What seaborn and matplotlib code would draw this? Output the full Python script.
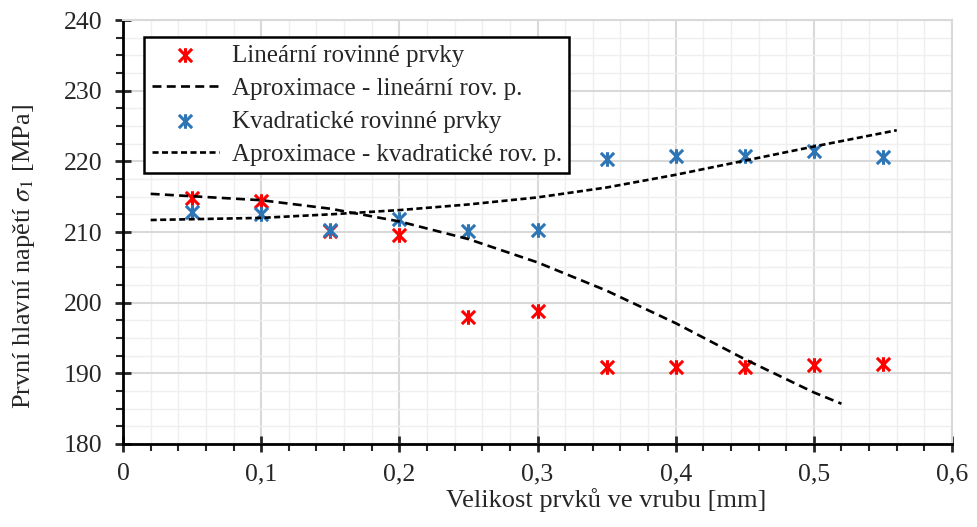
import numpy as np
import pandas as pd
import seaborn as sns
import matplotlib.pyplot as plt
from matplotlib.path import Path

# velikost prvku [mm]
velikost = [0.05, 0.10, 0.15, 0.20, 0.25, 0.30, 0.35, 0.40, 0.45, 0.50, 0.55]
# linearni rovinne prvky [MPa]
linearni = [214.8, 214.4, 210.1, 209.6, 198.0, 198.8, 190.9, 190.9, 190.9, 191.2, 191.3]
# kvadraticke rovinne prvky [MPa]
kvadraticke = [212.9, 212.6, 210.3, 211.9, 210.1, 210.3, 220.4, 220.7, 220.7, 221.5, 220.6]

# spojnice trendu
aprox_lin_x = [0.02, 0.10, 0.15, 0.20, 0.25, 0.30, 0.35, 0.40, 0.45, 0.50, 0.52]
aprox_lin_y = [215.4, 214.5, 213.3, 211.5, 209.0, 205.7, 201.7, 197.1, 192.0, 187.3, 185.7]
aprox_kv_x = [0.02, 0.10, 0.15, 0.20, 0.25, 0.30, 0.35, 0.40, 0.45, 0.50, 0.56]
aprox_kv_y = [211.7, 212.0, 212.5, 213.1, 213.9, 214.9, 216.3, 218.1, 220.1, 222.1, 224.4]

df = pd.DataFrame({"x": velikost, "lin": linearni, "kv": kvadraticke})

sns.set_style("white")
plt.rcParams["font.family"] = ["Liberation Serif", "DejaVu Serif"]
plt.rcParams["mathtext.fontset"] = "stix"

# znacka hvezdicka jako v Excelu
star = Path([(-1, -1), (1, 1), (-1, 1), (1, -1), (0, -1.1), (0, 1.1)],
            [Path.MOVETO, Path.LINETO, Path.MOVETO, Path.LINETO, Path.MOVETO, Path.LINETO])

fig = plt.figure(figsize=(9.78, 5.27), dpi=100)
ax = fig.add_axes([0.1258, 0.1575, 0.8476, 0.8045])

sns.scatterplot(data=df, x="x", y="lin", ax=ax, marker=star, s=110, color="#ff0000",
                edgecolor="#ff0000", linewidth=2.2, label="Lineární rovinné prvky", zorder=3)
sns.lineplot(x=aprox_lin_x, y=aprox_lin_y, ax=ax, color="black", lw=1.9, sort=False,
             linestyle=(0, (3.4, 2.0)), label="Aproximace - lineární rov. p.", zorder=4)
sns.scatterplot(data=df, x="x", y="kv", ax=ax, marker=star, s=110, color="#2e75b6",
                edgecolor="#2e75b6", linewidth=2.2, label="Kvadratické rovinné prvky", zorder=3)
sns.lineplot(x=aprox_kv_x, y=aprox_kv_y, ax=ax, color="black", lw=1.9, sort=False,
             linestyle=(0, (2.3, 1.3)), label="Aproximace - kvadratické rov. p.", zorder=4)

ax.set_xlim(0, 0.6)
ax.set_ylim(180, 240)
ax.set_xticks(np.arange(0, 0.61, 0.1))
ax.set_xticks(np.arange(0, 0.61, 0.02), minor=True)
ax.set_yticks(np.arange(180, 241, 10))
ax.set_yticks(np.arange(180, 241, 2.5), minor=True)
ax.set_xticklabels(["0", "0,1", "0,2", "0,3", "0,4", "0,5", "0,6"])

ax.grid(which="major", color="#d9d9d9", lw=1.5)
ax.grid(which="minor", color="#efefef", lw=1)
ax.set_axisbelow(True)

for s in ["top", "right"]:
    ax.spines[s].set_color("#d9d9d9")
    ax.spines[s].set_linewidth(1.5)
for s in ["left", "bottom"]:
    ax.spines[s].set_color("black")
    ax.spines[s].set_linewidth(2)

ax.tick_params(which="major", direction="inout", length=11.5, width=2, labelsize=18.5,
               left=True, bottom=True)
ax.tick_params(axis="y", which="major", pad=9)
ax.tick_params(axis="x", which="major", pad=8)
ax.tick_params(which="minor", direction="out", length=5, width=1.5, left=True, bottom=True)

ax.set_xlabel("Velikost prvků ve vrubu [mm]", fontsize=19)
ax.set_ylabel("První hlavní napětí $\\sigma_1$ [MPa]", fontsize=19)
ax.xaxis.set_label_coords(0.583, -0.105)
ax.yaxis.set_label_coords(-0.104, 0.441)

leg = ax.legend(loc="upper left", bbox_to_anchor=(0.0253, 0.96), borderaxespad=0,
                fontsize=18, frameon=True, fancybox=False, edgecolor="black", framealpha=1,
                handlelength=2.7, borderpad=0.3, labelspacing=0.42, handletextpad=0.5)
leg.get_frame().set_linewidth(1.8)

plt.savefig("out.png", dpi=100)
